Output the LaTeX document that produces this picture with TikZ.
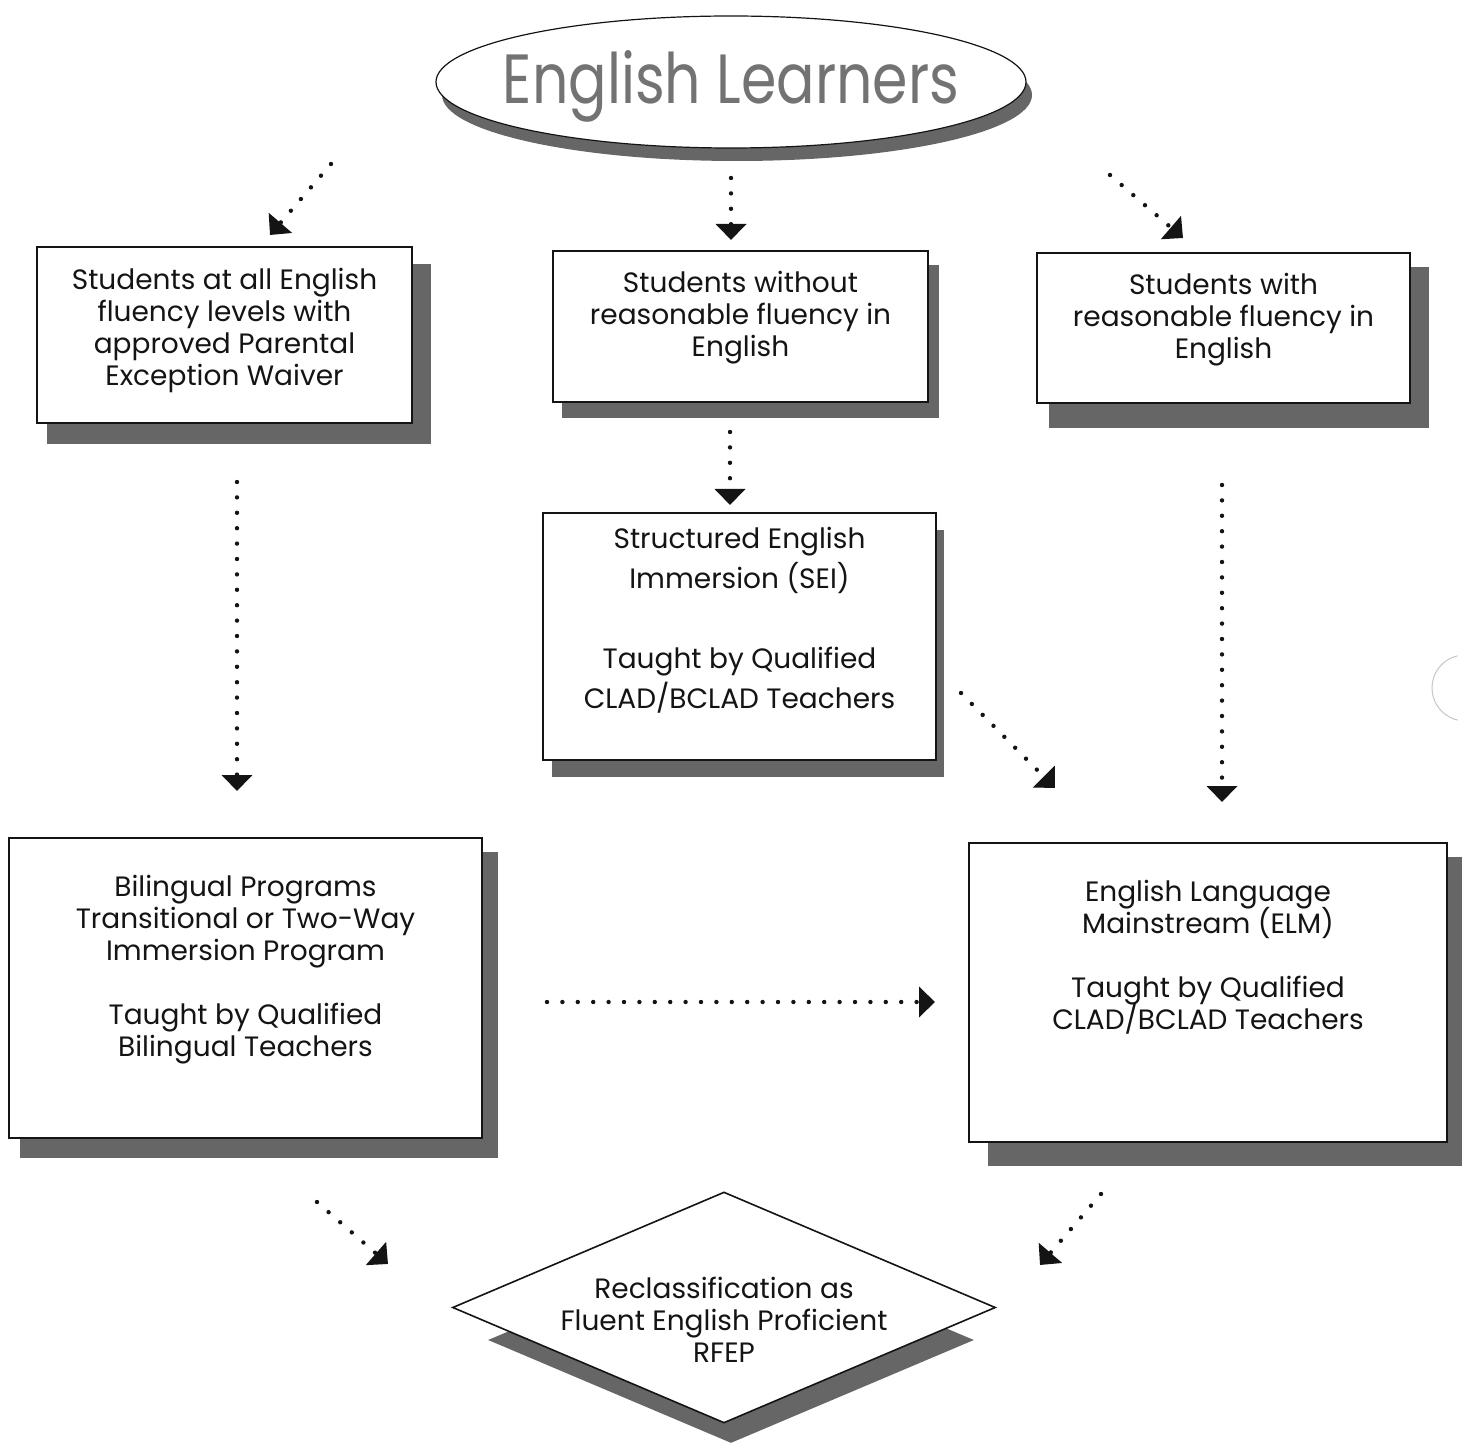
\documentclass[tikz,border=0pt]{standalone}
\usepackage{fontspec}
\setmainfont{Poppins}
\usetikzlibrary{shapes.geometric,arrows.meta,backgrounds}
\definecolor{shadowgray}{gray}{0.40}
\definecolor{ink}{gray}{0.08}
\definecolor{titlegray}{gray}{0.45}
\newcommand{\bodyfont}{\fontsize{14}{16}\selectfont\lineskiplimit=-20pt\relax}
\newcommand{\seifont}{\fontsize{14}{20}\selectfont\lineskiplimit=-20pt\relax}
\begin{document}
\begin{tikzpicture}[x=0.5pt,y=-0.5pt,
  box/.style={draw=ink, line width=0.8pt, fill=white, align=center, inner sep=0pt,
    font=\bodyfont, text=ink},
  shadowbox/.style={fill=shadowgray},
  arr/.style={draw=ink, line width=2.2pt, line cap=round, dash pattern=on 0pt off 7.7pt,
    -{Triangle[length=8pt,width=15pt]}},
]
\useasboundingbox (0,0) rectangle (1467,1443);

% title ellipse
\node[ellipse, draw=ink, line width=0.6pt, fill=white, minimum width=295pt, minimum height=66pt, inner sep=0pt] (el) at (731,82) {};
\node[anchor=base, inner sep=0pt, text=titlegray] (eltext) at (731,104)
  {\resizebox{228pt}{26.5pt}{English Learners}};

% boxes
\node[box, minimum width=187.5pt, minimum height=88pt] (b1) at (224.5,335)
  {Students at all English\\fluency levels with\\approved Parental\\Exception Waiver\\[-7.6pt]\mbox{}};
\node[box, minimum width=187.5pt, minimum height=75.5pt] (b2) at (740.5,326.5)
  {Students without\\reasonable fluency in\\English\\[-3.6pt]\mbox{}};
\node[box, minimum width=186.5pt, minimum height=75pt] (b3) at (1223.5,328)
  {Students with\\reasonable fluency in\\English\\[-3.6pt]\mbox{}};
\node[box, minimum width=196.5pt, minimum height=123.5pt, font=\seifont] (b4) at (739.5,636.5)
  {Structured English\\Immersion (SEI)\\[20pt]Taught by Qualified\\CLAD/BCLAD Teachers\\[-1pt]\mbox{}};
\node[box, minimum width=236.5pt, minimum height=150pt] (b5) at (245.5,988)
  {Bilingual Programs\\Transitional or Two-Way\\Immersion Program\\[16pt]Taught by Qualified\\Bilingual Teachers\\[6pt]\mbox{}};
\node[box, minimum width=239pt, minimum height=149.5pt] (b6) at (1208,992.5)
  {English Language\\Mainstream (ELM)\\[16pt]Taught by Qualified\\CLAD/BCLAD Teachers\\[21.5pt]\mbox{}};

% diamond
\node[diamond, draw=ink, line width=0.8pt, fill=white, minimum width=271.5pt, minimum height=115.5pt, inner sep=0pt,
  label={[align=center, font=\bodyfont, text=ink, yshift=-6pt]center:{Reclassification as\\Fluent English Proficient\\RFEP}}] (rf) at (724,1307.5) {};

% shadows
\begin{scope}[on background layer]
  \node[ellipse, shadowbox, minimum width=295pt, minimum height=66pt, inner sep=0pt] (els) at ([shift={(6,13)}]el.center) {};
  \fill[shadowbox] ([shift={(11,18)}]b1.north west) rectangle ([shift={(18,20)}]b1.south east);
  \fill[shadowbox] ([shift={(10,15)}]b2.north west) rectangle ([shift={(10,15)}]b2.south east);
  \fill[shadowbox] ([shift={(13,15)}]b3.north west) rectangle ([shift={(18,24)}]b3.south east);
  \fill[shadowbox] ([shift={(10,18)}]b4.north west) rectangle ([shift={(7,16)}]b4.south east);
  \fill[shadowbox] ([shift={(12,15)}]b5.north west) rectangle ([shift={(15,19)}]b5.south east);
  \fill[shadowbox] ([shift={(20,15)}]b6.north west) rectangle ([shift={(14,23)}]b6.south east);
  \node[diamond, shadowbox, minimum width=243pt, minimum height=103pt, inner sep=0pt] (rfs) at (731,1340) {};
\end{scope}

% connector end points
\coordinate (a1s) at (331,164);  \coordinate (a1e) at (270,235);
\coordinate (a2s) at (731,178);  \coordinate (a2e) at (731,240);
\coordinate (a3s) at (1110,175); \coordinate (a3e) at (1183,238);
\coordinate (a4s) at (237,482);  \coordinate (a4e) at (237,791);
\coordinate (a5s) at (730,432);  \coordinate (a5e) at (730,505);
\coordinate (a6s) at (1222,485); \coordinate (a6e) at (1222,802);
\coordinate (a7s) at (961,693);  \coordinate (a7e) at (1055,788);
\coordinate (a8s) at (547,1002); \coordinate (a8e) at (935,1002);
\coordinate (a9s) at (317,1202); \coordinate (a9e) at (388,1264);
\coordinate (a10s) at (1101,1194); \coordinate (a10e) at (1040,1265);

\foreach \i in {1,...,10} \draw[arr] (a\i s) -- (a\i e);

% faint punch-hole mark
\draw[gray!45, line width=0.5pt] (1457.6,655.8) arc[start angle=-103, end angle=-257, radius=33];
\end{tikzpicture}
\end{document}
